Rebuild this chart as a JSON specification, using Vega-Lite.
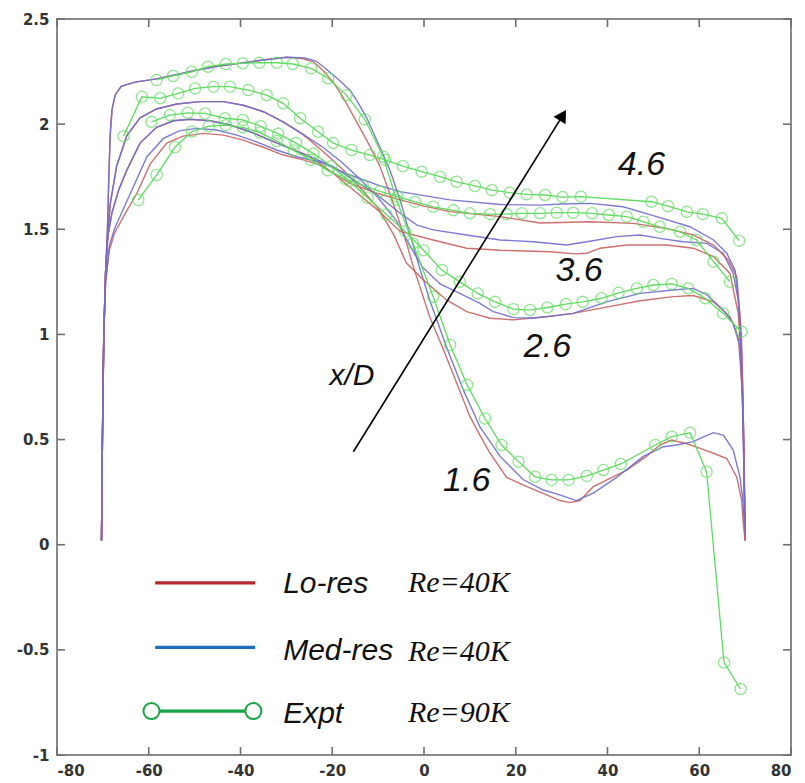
{
  "$schema": "https://vega.github.io/schema/vega-lite/v6.json",
  "width": 734,
  "height": 736,
  "autosize": "none",
  "padding": {"left": 57, "top": 19, "right": 14, "bottom": 28},
  "background": "white",
  "config": {
    "view": {"stroke": "#8a8a8a", "strokeWidth": 2},
    "axis": {"domain": false, "ticks": false, "grid": false, "labelPadding": 8, "labelFont": "DejaVu Sans", "labelFontWeight": "bold", "labelFontSize": 15, "labelColor": "#333333", "title": null}
  },
  "datasets": {
    "tx": [{"v":-80},{"v":-60},{"v":-40},{"v":-20},{"v":0},{"v":20},{"v":40},{"v":60},{"v":80}],
    "ty": [{"v":-1},{"v":-0.5},{"v":0},{"v":0.5},{"v":1},{"v":1.5},{"v":2},{"v":2.5}],
    "p": [
      {"s":"L16","m":"Lo","x":-70.3,"y":0.02},{"s":"L16","m":"Lo","x":-70.1,"y":0.5},{"s":"L16","m":"Lo","x":-69.8,"y":1.0},{"s":"L16","m":"Lo","x":-69.4,"y":1.3},{"s":"L16","m":"Lo","x":-69.0,"y":1.5},{"s":"L16","m":"Lo","x":-68.7,"y":1.75},{"s":"L16","m":"Lo","x":-68.4,"y":1.95},{"s":"L16","m":"Lo","x":-68.0,"y":2.07},{"s":"L16","m":"Lo","x":-67.3,"y":2.14},{"s":"L16","m":"Lo","x":-66,"y":2.18},{"s":"L16","m":"Lo","x":-63,"y":2.2},{"s":"L16","m":"Lo","x":-58.3,"y":2.215},{"s":"L16","m":"Lo","x":-54,"y":2.235},{"s":"L16","m":"Lo","x":-50,"y":2.255},{"s":"L16","m":"Lo","x":-45,"y":2.275},{"s":"L16","m":"Lo","x":-40,"y":2.29},{"s":"L16","m":"Lo","x":-35,"y":2.305},{"s":"L16","m":"Lo","x":-30,"y":2.318},{"s":"L16","m":"Lo","x":-26.5,"y":2.312},{"s":"L16","m":"Lo","x":-24,"y":2.295},{"s":"L16","m":"Lo","x":-21.8,"y":2.25},{"s":"L16","m":"Lo","x":-19.8,"y":2.2},{"s":"L16","m":"Lo","x":-18,"y":2.14},{"s":"L16","m":"Lo","x":-16.1,"y":2.067},{"s":"L16","m":"Lo","x":-12.5,"y":1.924},{"s":"L16","m":"Lo","x":-9.6,"y":1.8},{"s":"L16","m":"Lo","x":-6.7,"y":1.623},{"s":"L16","m":"Lo","x":-3.8,"y":1.433},{"s":"L16","m":"Lo","x":-2.3,"y":1.32},{"s":"L16","m":"Lo","x":-0.5,"y":1.2},{"s":"L16","m":"Lo","x":1.3,"y":1.08},{"s":"L16","m":"Lo","x":4.2,"y":0.93},{"s":"L16","m":"Lo","x":7.1,"y":0.77},{"s":"L16","m":"Lo","x":10.0,"y":0.61},{"s":"L16","m":"Lo","x":12.2,"y":0.52},{"s":"L16","m":"Lo","x":14.4,"y":0.435},{"s":"L16","m":"Lo","x":18.0,"y":0.32},{"s":"L16","m":"Lo","x":22.4,"y":0.276},{"s":"L16","m":"Lo","x":26.0,"y":0.244},{"s":"L16","m":"Lo","x":29.6,"y":0.21},{"s":"L16","m":"Lo","x":31.8,"y":0.2},{"s":"L16","m":"Lo","x":34.0,"y":0.21},{"s":"L16","m":"Lo","x":36.9,"y":0.276},{"s":"L16","m":"Lo","x":39.1,"y":0.3},{"s":"L16","m":"Lo","x":44.2,"y":0.355},{"s":"L16","m":"Lo","x":48.5,"y":0.42},{"s":"L16","m":"Lo","x":51.4,"y":0.474},{"s":"L16","m":"Lo","x":54.0,"y":0.498},{"s":"L16","m":"Lo","x":57.3,"y":0.48},{"s":"L16","m":"Lo","x":60.2,"y":0.458},{"s":"L16","m":"Lo","x":63.1,"y":0.435},{"s":"L16","m":"Lo","x":66.0,"y":0.41},{"s":"L16","m":"Lo","x":68.2,"y":0.32},{"s":"L16","m":"Lo","x":69.25,"y":0.21},{"s":"L16","m":"Lo","x":69.6,"y":0.1},{"s":"L16","m":"Lo","x":70.0,"y":0.02},

      {"s":"M16","m":"Med","x":-70.3,"y":0.03},{"s":"M16","m":"Med","x":-70.1,"y":0.5},{"s":"M16","m":"Med","x":-69.8,"y":1.0},{"s":"M16","m":"Med","x":-69.4,"y":1.3},{"s":"M16","m":"Med","x":-69.0,"y":1.5},{"s":"M16","m":"Med","x":-68.7,"y":1.75},{"s":"M16","m":"Med","x":-68.4,"y":1.95},{"s":"M16","m":"Med","x":-68.0,"y":2.07},{"s":"M16","m":"Med","x":-67.3,"y":2.14},{"s":"M16","m":"Med","x":-66,"y":2.18},{"s":"M16","m":"Med","x":-63,"y":2.2},{"s":"M16","m":"Med","x":-58.3,"y":2.215},{"s":"M16","m":"Med","x":-54,"y":2.235},{"s":"M16","m":"Med","x":-50,"y":2.255},{"s":"M16","m":"Med","x":-45,"y":2.275},{"s":"M16","m":"Med","x":-40,"y":2.29},{"s":"M16","m":"Med","x":-35,"y":2.305},{"s":"M16","m":"Med","x":-30,"y":2.318},{"s":"M16","m":"Med","x":-26,"y":2.315},{"s":"M16","m":"Med","x":-23.5,"y":2.3},{"s":"M16","m":"Med","x":-21.2,"y":2.26},{"s":"M16","m":"Med","x":-18.5,"y":2.21},{"s":"M16","m":"Med","x":-16.1,"y":2.16},{"s":"M16","m":"Med","x":-14.3,"y":2.1},{"s":"M16","m":"Med","x":-12.5,"y":2.03},{"s":"M16","m":"Med","x":-9.6,"y":1.89},{"s":"M16","m":"Med","x":-7.4,"y":1.78},{"s":"M16","m":"Med","x":-5.2,"y":1.64},{"s":"M16","m":"Med","x":-3.0,"y":1.47},{"s":"M16","m":"Med","x":-1.0,"y":1.32},{"s":"M16","m":"Med","x":1.3,"y":1.16},{"s":"M16","m":"Med","x":4.9,"y":0.94},{"s":"M16","m":"Med","x":8.6,"y":0.735},{"s":"M16","m":"Med","x":12.2,"y":0.56},{"s":"M16","m":"Med","x":16.6,"y":0.42},{"s":"M16","m":"Med","x":21.6,"y":0.31},{"s":"M16","m":"Med","x":26.0,"y":0.26},{"s":"M16","m":"Med","x":29.6,"y":0.237},{"s":"M16","m":"Med","x":33.2,"y":0.21},{"s":"M16","m":"Med","x":36.9,"y":0.245},{"s":"M16","m":"Med","x":42.0,"y":0.32},{"s":"M16","m":"Med","x":47.8,"y":0.42},{"s":"M16","m":"Med","x":52.2,"y":0.466},{"s":"M16","m":"Med","x":55.1,"y":0.474},{"s":"M16","m":"Med","x":58.7,"y":0.49},{"s":"M16","m":"Med","x":60.2,"y":0.506},{"s":"M16","m":"Med","x":63.1,"y":0.533},{"s":"M16","m":"Med","x":65.3,"y":0.52},{"s":"M16","m":"Med","x":67.4,"y":0.45},{"s":"M16","m":"Med","x":68.9,"y":0.32},{"s":"M16","m":"Med","x":69.5,"y":0.21},{"s":"M16","m":"Med","x":69.8,"y":0.1},

      {"s":"L26","m":"Lo","x":-70.3,"y":0.02},{"s":"L26","m":"Lo","x":-70.1,"y":0.5},{"s":"L26","m":"Lo","x":-69.8,"y":1.0},{"s":"L26","m":"Lo","x":-69.4,"y":1.3},{"s":"L26","m":"Lo","x":-69.0,"y":1.45},{"s":"L26","m":"Lo","x":-68.4,"y":1.62},{"s":"L26","m":"Lo","x":-67,"y":1.8},{"s":"L26","m":"Lo","x":-64.8,"y":1.945},{"s":"L26","m":"Lo","x":-61.9,"y":2.03},{"s":"L26","m":"Lo","x":-58.3,"y":2.072},{"s":"L26","m":"Lo","x":-53.9,"y":2.096},{"s":"L26","m":"Lo","x":-48.8,"y":2.107},{"s":"L26","m":"Lo","x":-43.7,"y":2.107},{"s":"L26","m":"Lo","x":-39.4,"y":2.09},{"s":"L26","m":"Lo","x":-35,"y":2.059},{"s":"L26","m":"Lo","x":-30.7,"y":2.011},{"s":"L26","m":"Lo","x":-26.3,"y":1.95},{"s":"L26","m":"Lo","x":-22,"y":1.87},{"s":"L26","m":"Lo","x":-18,"y":1.79},{"s":"L26","m":"Lo","x":-14,"y":1.7},{"s":"L26","m":"Lo","x":-10,"y":1.6},{"s":"L26","m":"Lo","x":-6.5,"y":1.47},{"s":"L26","m":"Lo","x":-3.8,"y":1.338},{"s":"L26","m":"Lo","x":-0.1,"y":1.259},{"s":"L26","m":"Lo","x":4.9,"y":1.164},{"s":"L26","m":"Lo","x":9.3,"y":1.108},{"s":"L26","m":"Lo","x":14.4,"y":1.077},{"s":"L26","m":"Lo","x":19.5,"y":1.069},{"s":"L26","m":"Lo","x":26.7,"y":1.084},{"s":"L26","m":"Lo","x":32.5,"y":1.1},{"s":"L26","m":"Lo","x":39.8,"y":1.13},{"s":"L26","m":"Lo","x":47.1,"y":1.16},{"s":"L26","m":"Lo","x":54.3,"y":1.18},{"s":"L26","m":"Lo","x":58.7,"y":1.185},{"s":"L26","m":"Lo","x":63.1,"y":1.155},{"s":"L26","m":"Lo","x":66.7,"y":1.084},{"s":"L26","m":"Lo","x":68.5,"y":0.99},{"s":"L26","m":"Lo","x":69.5,"y":0.7},{"s":"L26","m":"Lo","x":70.0,"y":0.02},

      {"s":"M26","m":"Med","x":-70.3,"y":0.02},{"s":"M26","m":"Med","x":-70.1,"y":0.5},{"s":"M26","m":"Med","x":-69.8,"y":1.0},{"s":"M26","m":"Med","x":-69.4,"y":1.3},{"s":"M26","m":"Med","x":-69.0,"y":1.45},{"s":"M26","m":"Med","x":-68.4,"y":1.62},{"s":"M26","m":"Med","x":-67,"y":1.8},{"s":"M26","m":"Med","x":-64.8,"y":1.945},{"s":"M26","m":"Med","x":-61.9,"y":2.03},{"s":"M26","m":"Med","x":-58.3,"y":2.072},{"s":"M26","m":"Med","x":-53.9,"y":2.096},{"s":"M26","m":"Med","x":-48.8,"y":2.107},{"s":"M26","m":"Med","x":-43.7,"y":2.107},{"s":"M26","m":"Med","x":-39.4,"y":2.09},{"s":"M26","m":"Med","x":-35,"y":2.059},{"s":"M26","m":"Med","x":-30.7,"y":2.011},{"s":"M26","m":"Med","x":-26.3,"y":1.95},{"s":"M26","m":"Med","x":-22,"y":1.89},{"s":"M26","m":"Med","x":-18,"y":1.82},{"s":"M26","m":"Med","x":-14,"y":1.74},{"s":"M26","m":"Med","x":-10,"y":1.65},{"s":"M26","m":"Med","x":-6,"y":1.54},{"s":"M26","m":"Med","x":-2.5,"y":1.4},{"s":"M26","m":"Med","x":-0.3,"y":1.32},{"s":"M26","m":"Med","x":3.5,"y":1.24},{"s":"M26","m":"Med","x":7.8,"y":1.195},{"s":"M26","m":"Med","x":12.2,"y":1.148},{"s":"M26","m":"Med","x":15.1,"y":1.108},{"s":"M26","m":"Med","x":19.5,"y":1.08},{"s":"M26","m":"Med","x":23.8,"y":1.078},{"s":"M26","m":"Med","x":28.2,"y":1.088},{"s":"M26","m":"Med","x":32.5,"y":1.1},{"s":"M26","m":"Med","x":39.8,"y":1.155},{"s":"M26","m":"Med","x":47.1,"y":1.195},{"s":"M26","m":"Med","x":54.3,"y":1.211},{"s":"M26","m":"Med","x":58.7,"y":1.219},{"s":"M26","m":"Med","x":61.6,"y":1.19},{"s":"M26","m":"Med","x":65.2,"y":1.116},{"s":"M26","m":"Med","x":67.4,"y":1.053},{"s":"M26","m":"Med","x":68.9,"y":0.94},{"s":"M26","m":"Med","x":69.6,"y":0.6},{"s":"M26","m":"Med","x":70.0,"y":0.05},

      {"s":"L36","m":"Lo","x":-70.3,"y":0.02},{"s":"L36","m":"Lo","x":-70.1,"y":0.5},{"s":"L36","m":"Lo","x":-69.8,"y":1.0},{"s":"L36","m":"Lo","x":-69.4,"y":1.3},{"s":"L36","m":"Lo","x":-68.9,"y":1.47},{"s":"L36","m":"Lo","x":-68.0,"y":1.58},{"s":"L36","m":"Lo","x":-66.5,"y":1.69},{"s":"L36","m":"Lo","x":-64.8,"y":1.78},{"s":"L36","m":"Lo","x":-61.9,"y":1.91},{"s":"L36","m":"Lo","x":-58.3,"y":1.985},{"s":"L36","m":"Lo","x":-54.6,"y":2.016},{"s":"L36","m":"Lo","x":-51,"y":2.023},{"s":"L36","m":"Lo","x":-46.6,"y":2.016},{"s":"L36","m":"Lo","x":-42.3,"y":1.996},{"s":"L36","m":"Lo","x":-37.9,"y":1.964},{"s":"L36","m":"Lo","x":-33.6,"y":1.924},{"s":"L36","m":"Lo","x":-29.2,"y":1.885},{"s":"L36","m":"Lo","x":-24.8,"y":1.845},{"s":"L36","m":"Lo","x":-20,"y":1.77},{"s":"L36","m":"Lo","x":-15,"y":1.68},{"s":"L36","m":"Lo","x":-10,"y":1.59},{"s":"L36","m":"Lo","x":-5.2,"y":1.49},{"s":"L36","m":"Lo","x":2,"y":1.449},{"s":"L36","m":"Lo","x":9.3,"y":1.41},{"s":"L36","m":"Lo","x":16.6,"y":1.4},{"s":"L36","m":"Lo","x":27.5,"y":1.393},{"s":"L36","m":"Lo","x":33,"y":1.383},{"s":"L36","m":"Lo","x":35.5,"y":1.386},{"s":"L36","m":"Lo","x":38.4,"y":1.41},{"s":"L36","m":"Lo","x":44.2,"y":1.425},{"s":"L36","m":"Lo","x":52.9,"y":1.425},{"s":"L36","m":"Lo","x":58.7,"y":1.41},{"s":"L36","m":"Lo","x":63.1,"y":1.37},{"s":"L36","m":"Lo","x":66.7,"y":1.29},{"s":"L36","m":"Lo","x":68.5,"y":1.1},{"s":"L36","m":"Lo","x":69.4,"y":0.8},{"s":"L36","m":"Lo","x":70.0,"y":0.02},

      {"s":"M36","m":"Med","x":-70.3,"y":0.02},{"s":"M36","m":"Med","x":-70.1,"y":0.5},{"s":"M36","m":"Med","x":-69.8,"y":1.0},{"s":"M36","m":"Med","x":-69.4,"y":1.3},{"s":"M36","m":"Med","x":-68.9,"y":1.47},{"s":"M36","m":"Med","x":-68.0,"y":1.58},{"s":"M36","m":"Med","x":-66.5,"y":1.69},{"s":"M36","m":"Med","x":-64.8,"y":1.78},{"s":"M36","m":"Med","x":-61.9,"y":1.91},{"s":"M36","m":"Med","x":-58.3,"y":1.985},{"s":"M36","m":"Med","x":-54.6,"y":2.016},{"s":"M36","m":"Med","x":-51,"y":2.023},{"s":"M36","m":"Med","x":-46.6,"y":2.016},{"s":"M36","m":"Med","x":-42.3,"y":1.996},{"s":"M36","m":"Med","x":-37.9,"y":1.964},{"s":"M36","m":"Med","x":-33.6,"y":1.924},{"s":"M36","m":"Med","x":-29.2,"y":1.885},{"s":"M36","m":"Med","x":-24.8,"y":1.845},{"s":"M36","m":"Med","x":-20,"y":1.8},{"s":"M36","m":"Med","x":-15,"y":1.73},{"s":"M36","m":"Med","x":-10,"y":1.66},{"s":"M36","m":"Med","x":-5.2,"y":1.576},{"s":"M36","m":"Med","x":-1.5,"y":1.52},{"s":"M36","m":"Med","x":2.0,"y":1.497},{"s":"M36","m":"Med","x":9.3,"y":1.473},{"s":"M36","m":"Med","x":16.6,"y":1.449},{"s":"M36","m":"Med","x":23.8,"y":1.441},{"s":"M36","m":"Med","x":31.1,"y":1.425},{"s":"M36","m":"Med","x":35.5,"y":1.441},{"s":"M36","m":"Med","x":42,"y":1.465},{"s":"M36","m":"Med","x":47.1,"y":1.473},{"s":"M36","m":"Med","x":51.4,"y":1.457},{"s":"M36","m":"Med","x":56.5,"y":1.441},{"s":"M36","m":"Med","x":61.6,"y":1.433},{"s":"M36","m":"Med","x":65.2,"y":1.386},{"s":"M36","m":"Med","x":67.4,"y":1.29},{"s":"M36","m":"Med","x":68.5,"y":1.164},{"s":"M36","m":"Med","x":69.3,"y":0.9},{"s":"M36","m":"Med","x":69.8,"y":0.4},{"s":"M36","m":"Med","x":70.0,"y":0.05},

      {"s":"L46","m":"Lo","x":-70.3,"y":0.02},{"s":"L46","m":"Lo","x":-70.1,"y":0.5},{"s":"L46","m":"Lo","x":-69.8,"y":1.0},{"s":"L46","m":"Lo","x":-69.4,"y":1.25},{"s":"L46","m":"Lo","x":-68.6,"y":1.4},{"s":"L46","m":"Lo","x":-67.5,"y":1.48},{"s":"L46","m":"Lo","x":-65,"y":1.58},{"s":"L46","m":"Lo","x":-62.6,"y":1.67},{"s":"L46","m":"Lo","x":-59.7,"y":1.81},{"s":"L46","m":"Lo","x":-56.1,"y":1.91},{"s":"L46","m":"Lo","x":-52.5,"y":1.943},{"s":"L46","m":"Lo","x":-48.1,"y":1.956},{"s":"L46","m":"Lo","x":-43.7,"y":1.948},{"s":"L46","m":"Lo","x":-39.4,"y":1.924},{"s":"L46","m":"Lo","x":-35,"y":1.89},{"s":"L46","m":"Lo","x":-30.7,"y":1.853},{"s":"L46","m":"Lo","x":-26.3,"y":1.83},{"s":"L46","m":"Lo","x":-22.7,"y":1.806},{"s":"L46","m":"Lo","x":-16.1,"y":1.718},{"s":"L46","m":"Lo","x":-10,"y":1.67},{"s":"L46","m":"Lo","x":-5.2,"y":1.64},{"s":"L46","m":"Lo","x":0,"y":1.61},{"s":"L46","m":"Lo","x":5.7,"y":1.584},{"s":"L46","m":"Lo","x":16.6,"y":1.56},{"s":"L46","m":"Lo","x":25.3,"y":1.53},{"s":"L46","m":"Lo","x":36.2,"y":1.536},{"s":"L46","m":"Lo","x":45.6,"y":1.528},{"s":"L46","m":"Lo","x":52.9,"y":1.504},{"s":"L46","m":"Lo","x":58.7,"y":1.473},{"s":"L46","m":"Lo","x":63.1,"y":1.425},{"s":"L46","m":"Lo","x":66.3,"y":1.354},{"s":"L46","m":"Lo","x":68.2,"y":1.274},{"s":"L46","m":"Lo","x":69.2,"y":1.0},{"s":"L46","m":"Lo","x":69.7,"y":0.5},{"s":"L46","m":"Lo","x":70.0,"y":0.02},

      {"s":"M46","m":"Med","x":-70.3,"y":0.02},{"s":"M46","m":"Med","x":-70.1,"y":0.5},{"s":"M46","m":"Med","x":-69.8,"y":1.0},{"s":"M46","m":"Med","x":-69.4,"y":1.25},{"s":"M46","m":"Med","x":-68.6,"y":1.42},{"s":"M46","m":"Med","x":-67.5,"y":1.5},{"s":"M46","m":"Med","x":-66.3,"y":1.56},{"s":"M46","m":"Med","x":-63.4,"y":1.7},{"s":"M46","m":"Med","x":-60.4,"y":1.845},{"s":"M46","m":"Med","x":-56.8,"y":1.932},{"s":"M46","m":"Med","x":-53.2,"y":1.969},{"s":"M46","m":"Med","x":-49.5,"y":1.98},{"s":"M46","m":"Med","x":-45.2,"y":1.972},{"s":"M46","m":"Med","x":-40.8,"y":1.948},{"s":"M46","m":"Med","x":-36.5,"y":1.916},{"s":"M46","m":"Med","x":-32.1,"y":1.877},{"s":"M46","m":"Med","x":-27.7,"y":1.845},{"s":"M46","m":"Med","x":-22.7,"y":1.82},{"s":"M46","m":"Med","x":-16.1,"y":1.758},{"s":"M46","m":"Med","x":-10,"y":1.71},{"s":"M46","m":"Med","x":-5.2,"y":1.679},{"s":"M46","m":"Med","x":0,"y":1.66},{"s":"M46","m":"Med","x":5.7,"y":1.64},{"s":"M46","m":"Med","x":16.6,"y":1.618},{"s":"M46","m":"Med","x":25.3,"y":1.615},{"s":"M46","m":"Med","x":30,"y":1.62},{"s":"M46","m":"Med","x":36.2,"y":1.623},{"s":"M46","m":"Med","x":43.4,"y":1.607},{"s":"M46","m":"Med","x":50.7,"y":1.56},{"s":"M46","m":"Med","x":58,"y":1.512},{"s":"M46","m":"Med","x":63.1,"y":1.449},{"s":"M46","m":"Med","x":66,"y":1.386},{"s":"M46","m":"Med","x":67.8,"y":1.306},{"s":"M46","m":"Med","x":68.8,"y":1.1},{"s":"M46","m":"Med","x":69.5,"y":0.6},{"s":"M46","m":"Med","x":70.0,"y":0.05},

      {"s":"E16","m":"Expt","x":-58.3,"y":2.21},{"s":"E16","m":"Expt","x":-54.7,"y":2.229},{"s":"E16","m":"Expt","x":-50.6,"y":2.249},{"s":"E16","m":"Expt","x":-47.1,"y":2.273},{"s":"E16","m":"Expt","x":-43.2,"y":2.286},{"s":"E16","m":"Expt","x":-39.5,"y":2.289},{"s":"E16","m":"Expt","x":-35.9,"y":2.292},{"s":"E16","m":"Expt","x":-32.1,"y":2.292},{"s":"E16","m":"Expt","x":-28.6,"y":2.286},{"s":"E16","m":"Expt","x":-24.6,"y":2.265},{"s":"E16","m":"Expt","x":-20.9,"y":2.218},{"s":"E16","m":"Expt","x":-16.9,"y":2.138},{"s":"E16","m":"Expt","x":-12.9,"y":2.023},{"s":"E16","m":"Expt","x":-8.9,"y":1.845},{"s":"E16","m":"Expt","x":-6.0,"y":1.64},{"s":"E16","m":"Expt","x":-2.4,"y":1.433},{"s":"E16","m":"Expt","x":2.0,"y":1.179},{"s":"E16","m":"Expt","x":5.7,"y":0.95},{"s":"E16","m":"Expt","x":9.4,"y":0.76},{"s":"E16","m":"Expt","x":13.3,"y":0.6},{"s":"E16","m":"Expt","x":16.9,"y":0.474},{"s":"E16","m":"Expt","x":20.6,"y":0.395},{"s":"E16","m":"Expt","x":24.2,"y":0.323},{"s":"E16","m":"Expt","x":27.8,"y":0.308},{"s":"E16","m":"Expt","x":31.5,"y":0.308},{"s":"E16","m":"Expt","x":35.5,"y":0.327},{"s":"E16","m":"Expt","x":39.1,"y":0.355},{"s":"E16","m":"Expt","x":42.9,"y":0.384},{"s":"E16","m":"Expt","x":50.4,"y":0.474},{"s":"E16","m":"Expt","x":54.0,"y":0.514},{"s":"E16","m":"Expt","x":58.0,"y":0.533},{"s":"E16","m":"Expt","x":61.6,"y":0.347},{"s":"E16","m":"Expt","x":65.4,"y":-0.56},{"s":"E16","m":"Expt","x":69.0,"y":-0.686},

      {"s":"E26","m":"Expt","x":-59.4,"y":2.011},{"s":"E26","m":"Expt","x":-55.4,"y":2.043},{"s":"E26","m":"Expt","x":-51.5,"y":2.054},{"s":"E26","m":"Expt","x":-47.7,"y":2.051},{"s":"E26","m":"Expt","x":-43.4,"y":2.028},{"s":"E26","m":"Expt","x":-39.5,"y":2.02},{"s":"E26","m":"Expt","x":-35.6,"y":1.99},{"s":"E26","m":"Expt","x":-31.8,"y":1.955},{"s":"E26","m":"Expt","x":-27.9,"y":1.91},{"s":"E26","m":"Expt","x":-24.1,"y":1.86},{"s":"E26","m":"Expt","x":-20.2,"y":1.8},{"s":"E26","m":"Expt","x":-16.3,"y":1.73},{"s":"E26","m":"Expt","x":-12.3,"y":1.65},{"s":"E26","m":"Expt","x":-8.2,"y":1.57},{"s":"E26","m":"Expt","x":-4.1,"y":1.49},{"s":"E26","m":"Expt","x":-0.1,"y":1.4},{"s":"E26","m":"Expt","x":3.9,"y":1.306},{"s":"E26","m":"Expt","x":7.8,"y":1.25},{"s":"E26","m":"Expt","x":11.7,"y":1.195},{"s":"E26","m":"Expt","x":15.5,"y":1.155},{"s":"E26","m":"Expt","x":19.5,"y":1.12},{"s":"E26","m":"Expt","x":23.1,"y":1.116},{"s":"E26","m":"Expt","x":26.9,"y":1.128},{"s":"E26","m":"Expt","x":30.9,"y":1.144},{"s":"E26","m":"Expt","x":34.6,"y":1.155},{"s":"E26","m":"Expt","x":38.7,"y":1.172},{"s":"E26","m":"Expt","x":42.4,"y":1.198},{"s":"E26","m":"Expt","x":46.4,"y":1.219},{"s":"E26","m":"Expt","x":50.0,"y":1.235},{"s":"E26","m":"Expt","x":54.0,"y":1.24},{"s":"E26","m":"Expt","x":57.6,"y":1.219},{"s":"E26","m":"Expt","x":61.3,"y":1.172},{"s":"E26","m":"Expt","x":65.2,"y":1.1},{"s":"E26","m":"Expt","x":69.2,"y":1.013},

      {"s":"E36","m":"Expt","x":-62.3,"y":1.639},{"s":"E36","m":"Expt","x":-58.3,"y":1.758},{"s":"E36","m":"Expt","x":-54.3,"y":1.89},{"s":"E36","m":"Expt","x":-50.6,"y":1.965},{"s":"E36","m":"Expt","x":-46.9,"y":1.99},{"s":"E36","m":"Expt","x":-43.2,"y":1.995},{"s":"E36","m":"Expt","x":-39.5,"y":1.985},{"s":"E36","m":"Expt","x":-35.8,"y":1.96},{"s":"E36","m":"Expt","x":-32.1,"y":1.92},{"s":"E36","m":"Expt","x":-28.4,"y":1.875},{"s":"E36","m":"Expt","x":-24.7,"y":1.83},{"s":"E36","m":"Expt","x":-21.0,"y":1.78},{"s":"E36","m":"Expt","x":-17.2,"y":1.74},{"s":"E36","m":"Expt","x":-13.4,"y":1.71},{"s":"E36","m":"Expt","x":-9.6,"y":1.68},{"s":"E36","m":"Expt","x":-5.8,"y":1.655},{"s":"E36","m":"Expt","x":-1.96,"y":1.63},{"s":"E36","m":"Expt","x":2.0,"y":1.607},{"s":"E36","m":"Expt","x":6.4,"y":1.59},{"s":"E36","m":"Expt","x":10.0,"y":1.576},{"s":"E36","m":"Expt","x":14.4,"y":1.572},{"s":"E36","m":"Expt","x":18.0,"y":1.572},{"s":"E36","m":"Expt","x":21.3,"y":1.576},{"s":"E36","m":"Expt","x":25.3,"y":1.576},{"s":"E36","m":"Expt","x":28.9,"y":1.579},{"s":"E36","m":"Expt","x":32.5,"y":1.579},{"s":"E36","m":"Expt","x":36.6,"y":1.576},{"s":"E36","m":"Expt","x":40.3,"y":1.568},{"s":"E36","m":"Expt","x":44.2,"y":1.56},{"s":"E36","m":"Expt","x":47.8,"y":1.536},{"s":"E36","m":"Expt","x":51.4,"y":1.512},{"s":"E36","m":"Expt","x":55.8,"y":1.488},{"s":"E36","m":"Expt","x":59.4,"y":1.449},{"s":"E36","m":"Expt","x":63.1,"y":1.346},{"s":"E36","m":"Expt","x":66.7,"y":1.25},

      {"s":"E46","m":"Expt","x":-65.5,"y":1.943},{"s":"E46","m":"Expt","x":-61.5,"y":2.13},{"s":"E46","m":"Expt","x":-57.5,"y":2.123},{"s":"E46","m":"Expt","x":-53.6,"y":2.146},{"s":"E46","m":"Expt","x":-49.9,"y":2.17},{"s":"E46","m":"Expt","x":-45.9,"y":2.178},{"s":"E46","m":"Expt","x":-42.3,"y":2.178},{"s":"E46","m":"Expt","x":-38.3,"y":2.162},{"s":"E46","m":"Expt","x":-34.3,"y":2.138},{"s":"E46","m":"Expt","x":-30.7,"y":2.099},{"s":"E46","m":"Expt","x":-27.0,"y":2.028},{"s":"E46","m":"Expt","x":-23.1,"y":1.964},{"s":"E46","m":"Expt","x":-19.8,"y":1.91},{"s":"E46","m":"Expt","x":-15.8,"y":1.877},{"s":"E46","m":"Expt","x":-11.8,"y":1.853},{"s":"E46","m":"Expt","x":-8.5,"y":1.83},{"s":"E46","m":"Expt","x":-4.6,"y":1.8},{"s":"E46","m":"Expt","x":-0.5,"y":1.774},{"s":"E46","m":"Expt","x":3.5,"y":1.75},{"s":"E46","m":"Expt","x":7.1,"y":1.726},{"s":"E46","m":"Expt","x":11.1,"y":1.706},{"s":"E46","m":"Expt","x":14.8,"y":1.686},{"s":"E46","m":"Expt","x":18.7,"y":1.674},{"s":"E46","m":"Expt","x":22.4,"y":1.666},{"s":"E46","m":"Expt","x":26.4,"y":1.663},{"s":"E46","m":"Expt","x":30.2,"y":1.653},{"s":"E46","m":"Expt","x":34.2,"y":1.655},{"s":"E46","m":"Expt","x":49.6,"y":1.631},{"s":"E46","m":"Expt","x":53.2,"y":1.61},{"s":"E46","m":"Expt","x":57.3,"y":1.583},{"s":"E46","m":"Expt","x":60.8,"y":1.572},{"s":"E46","m":"Expt","x":64.9,"y":1.552},{"s":"E46","m":"Expt","x":68.7,"y":1.446}
    ],
    "a": [
      {"kind":"label","t":"4.6","x":47.4,"y":1.806},
      {"kind":"label","t":"3.6","x":33.8,"y":1.301},
      {"kind":"label","t":"2.6","x":26.9,"y":0.941},
      {"kind":"label","t":"1.6","x":9.3,"y":0.304},
      {"kind":"xd","t":"x/D","x":-15.7,"y":0.802},
      {"kind":"arrow","x":-15.4,"y":0.442,"x2":30.26,"y2":2.042},
      {"kind":"head","x":30.26,"y":2.042},
      {"kind":"leg","m":"Lo","x":-58.6,"x2":-36.8,"y":-0.181},
      {"kind":"leg","m":"Med","x":-58.6,"x2":-36.8,"y":-0.488},
      {"kind":"leg","m":"Expt","x":-59.4,"x2":-37.2,"y":-0.791},
      {"kind":"legc","x":-59.4,"y":-0.791},
      {"kind":"legc","x":-37.2,"y":-0.791},
      {"kind":"legt","t":"Lo-res","x":-30.7,"y":-0.187},
      {"kind":"legt","t":"Med-res","x":-30.7,"y":-0.505},
      {"kind":"legt","t":"Expt","x":-30.7,"y":-0.805},
      {"kind":"re","t":"Re=40K","x":-3.5,"y":-0.182},
      {"kind":"re","t":"Re=40K","x":-3.5,"y":-0.509},
      {"kind":"re","t":"Re=90K","x":-3.5,"y":-0.8}
    ]
  },
  "resolve": {"scale": {"color": "independent"}},
  "layer": [
    {
      "data": {"name": "p"},
      "transform": [{"filter": "datum.m !== 'Expt'"}],
      "mark": {"type": "line", "strokeWidth": 1.4, "opacity": 0.9},
      "encoding": {
        "x": {"field": "x", "type": "quantitative", "scale": {"domain": [-80, 80], "nice": false, "zero": false},
              "axis": {"orient": "bottom", "values": [-80,-60,-40,-20,0,20,40,60,80], "labelExpr": "'' + datum.value"}},
        "y": {"field": "y", "type": "quantitative", "scale": {"domain": [-1, 2.5], "nice": false, "zero": false},
              "axis": {"orient": "left", "values": [-1,-0.5,0,0.5,1,1.5,2,2.5], "labelExpr": "'' + datum.value"}},
        "detail": {"field": "s", "type": "nominal"},
        "color": {"field": "m", "type": "nominal", "scale": {"domain": ["Lo", "Med"], "range": ["#c8605f", "#6f6bd0"]}, "legend": null}
      }
    },
    {
      "data": {"name": "tx"},
      "mark": {"type": "rule", "color": "#6e6e6e", "strokeWidth": 1.6, "y2Offset": -8},
      "encoding": {
        "x": {"field": "v", "type": "quantitative"},
        "y": {"datum": -1, "type": "quantitative"},
        "y2": {"datum": -1}
      }
    },
    {
      "data": {"name": "tx"},
      "mark": {"type": "rule", "color": "#6e6e6e", "strokeWidth": 1.6, "y2Offset": 8},
      "encoding": {
        "x": {"field": "v", "type": "quantitative"},
        "y": {"datum": 2.5, "type": "quantitative"},
        "y2": {"datum": 2.5}
      }
    },
    {
      "data": {"name": "ty"},
      "mark": {"type": "rule", "color": "#6e6e6e", "strokeWidth": 1.6, "x2Offset": 8},
      "encoding": {
        "y": {"field": "v", "type": "quantitative"},
        "x": {"datum": -80, "type": "quantitative"},
        "x2": {"datum": -80}
      }
    },
    {
      "data": {"name": "ty"},
      "mark": {"type": "rule", "color": "#6e6e6e", "strokeWidth": 1.6, "x2Offset": -8},
      "encoding": {
        "y": {"field": "v", "type": "quantitative"},
        "x": {"datum": 80, "type": "quantitative"},
        "x2": {"datum": 80}
      }
    },
    {
      "data": {"name": "p"},
      "transform": [{"filter": "datum.m === 'Expt'"}],
      "mark": {"type": "line", "strokeWidth": 1.3, "color": "#5fdc5f"},
      "encoding": {
        "x": {"field": "x", "type": "quantitative"},
        "y": {"field": "y", "type": "quantitative"},
        "detail": {"field": "s", "type": "nominal"}
      }
    },
    {
      "data": {"name": "p"},
      "transform": [{"filter": "datum.m === 'Expt'"}],
      "mark": {"type": "point", "shape": "circle", "filled": false, "size": 125, "strokeWidth": 1.3, "color": "#5fdc5f"},
      "encoding": {
        "x": {"field": "x", "type": "quantitative"},
        "y": {"field": "y", "type": "quantitative"}
      }
    },
    {
      "data": {"name": "a"},
      "transform": [{"filter": "datum.kind === 'label'"}],
      "mark": {"type": "text", "font": "Liberation Sans", "fontStyle": "italic", "fontSize": 34, "align": "center", "baseline": "middle", "color": "#111111"},
      "encoding": {
        "x": {"field": "x", "type": "quantitative"},
        "y": {"field": "y", "type": "quantitative"},
        "text": {"field": "t"}
      }
    },
    {
      "data": {"name": "a"},
      "transform": [{"filter": "datum.kind === 'xd'"}],
      "mark": {"type": "text", "font": "Liberation Sans", "fontStyle": "italic", "fontSize": 30, "align": "center", "baseline": "middle", "color": "#111111"},
      "encoding": {
        "x": {"field": "x", "type": "quantitative"},
        "y": {"field": "y", "type": "quantitative"},
        "text": {"field": "t"}
      }
    },
    {
      "data": {"name": "a"},
      "transform": [{"filter": "datum.kind === 'arrow'"}],
      "mark": {"type": "rule", "color": "#000000", "strokeWidth": 1.6},
      "encoding": {
        "x": {"field": "x", "type": "quantitative"},
        "y": {"field": "y", "type": "quantitative"},
        "x2": {"field": "x2"},
        "y2": {"field": "y2"}
      }
    },
    {
      "data": {"name": "a"},
      "transform": [{"filter": "datum.kind === 'head'"}],
      "mark": {"type": "point", "shape": "triangle-up", "angle": 32, "size": 200, "filled": true, "color": "#000000", "opacity": 1},
      "encoding": {
        "x": {"field": "x", "type": "quantitative"},
        "y": {"field": "y", "type": "quantitative"}
      }
    },
    {
      "data": {"name": "a"},
      "transform": [{"filter": "datum.kind === 'leg'"}],
      "mark": {"type": "rule", "strokeWidth": 3.2},
      "encoding": {
        "x": {"field": "x", "type": "quantitative"},
        "y": {"field": "y", "type": "quantitative"},
        "x2": {"field": "x2"},
        "color": {"field": "m", "type": "nominal", "scale": {"domain": ["Lo", "Med", "Expt"], "range": ["#b8282f", "#1d6fbe", "#16a545"]}, "legend": null}
      }
    },
    {
      "data": {"name": "a"},
      "transform": [{"filter": "datum.kind === 'legc'"}],
      "mark": {"type": "point", "shape": "circle", "filled": true, "fill": "white", "fillOpacity": 1, "stroke": "#16a545", "strokeWidth": 2, "size": 260, "opacity": 1},
      "encoding": {
        "x": {"field": "x", "type": "quantitative"},
        "y": {"field": "y", "type": "quantitative"}
      }
    },
    {
      "data": {"name": "a"},
      "transform": [{"filter": "datum.kind === 'legt'"}],
      "mark": {"type": "text", "font": "Liberation Sans", "fontStyle": "italic", "fontSize": 30, "align": "left", "baseline": "middle", "color": "#111111"},
      "encoding": {
        "x": {"field": "x", "type": "quantitative"},
        "y": {"field": "y", "type": "quantitative"},
        "text": {"field": "t"}
      }
    },
    {
      "data": {"name": "a"},
      "transform": [{"filter": "datum.kind === 're'"}],
      "mark": {"type": "text", "font": "Liberation Serif", "fontStyle": "italic", "fontSize": 30, "align": "left", "baseline": "middle", "color": "#111111"},
      "encoding": {
        "x": {"field": "x", "type": "quantitative"},
        "y": {"field": "y", "type": "quantitative"},
        "text": {"field": "t"}
      }
    }
  ]
}
